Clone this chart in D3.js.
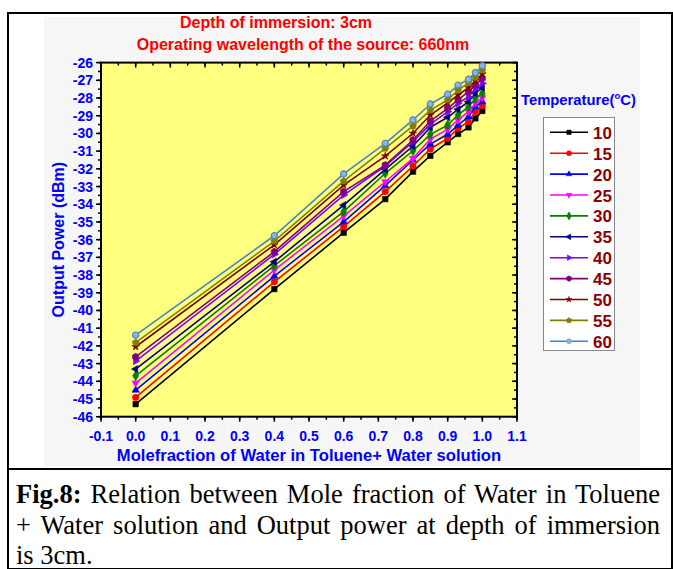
<!DOCTYPE html>
<html><head><meta charset="utf-8">
<script src="https://cdn.jsdelivr.net/npm/d3@7"></script>
<style>
body{margin:0;background:#fff}svg{display:block}
svg text{font-family:"Liberation Sans",Arial,Arimo,Helvetica,sans-serif;}
svg text.serif{font-family:"Liberation Serif","Times New Roman",Tinos,Times,serif;}
</style>
</head><body>
<svg id="c" width="673" height="569"></svg>
<script>
const titleLines = ["Depth of immersion: 3cm", "Operating wavelength of the source: 660nm"];
const xLabel = "Molefraction of Water in Toluene+ Water solution";
const yLabel = "Output Power (dBm)";
const legendTitle = "Temperature(";
const molefraction = [0.0, 0.4, 0.6, 0.72, 0.8, 0.85, 0.9, 0.93, 0.96, 0.98, 1.0];
const temperatures = ["10","15","20","25","30","35","40","45","50","55","60"];
const power10 = [-45.29,-38.79,-35.61,-33.71,-32.16,-31.26,-30.50,-30.03,-29.66,-29.15,-28.73];
const power15 = [-44.91,-38.38,-35.27,-33.29,-31.84,-30.88,-30.28,-29.71,-29.34,-28.77,-28.44];
const power20 = [-44.50,-38.06,-34.99,-32.95,-31.50,-30.60,-30.05,-29.53,-29.06,-28.49,-28.21];
const power25 = [-44.10,-37.72,-34.67,-32.73,-31.41,-30.32,-29.77,-29.24,-28.77,-28.30,-27.98];
const power30 = [-43.69,-37.47,-34.42,-32.25,-30.98,-30.05,-29.53,-28.96,-28.49,-28.02,-27.73];
const power35 = [-43.31,-37.25,-34.05,-32.03,-30.71,-29.66,-29.09,-28.64,-28.21,-27.73,-27.42];
const power40 = [-42.86,-36.83,-33.48,-31.84,-30.47,-29.49,-28.77,-28.30,-27.93,-27.45,-27.17];
const power45 = [-42.62,-36.68,-33.29,-31.79,-30.37,-29.30,-28.58,-28.11,-27.64,-27.27,-26.89];
const power50 = [-42.05,-36.29,-32.92,-31.28,-29.99,-28.96,-28.27,-27.83,-27.42,-27.02,-26.64];
const power55 = [-41.82,-36.08,-32.69,-30.84,-29.58,-28.68,-28.11,-27.55,-27.14,-26.83,-26.42];
const power60 = [-41.39,-35.78,-32.29,-30.56,-29.24,-28.34,-27.79,-27.27,-26.94,-26.57,-26.18];
const xTicks = [-0.1,0.0,0.1,0.2,0.3,0.4,0.5,0.6,0.7,0.8,0.9,1.0,1.1];
const yTicks = [-46,-45,-44,-43,-42,-41,-40,-39,-38,-37,-36,-35,-34,-33,-32,-31,-30,-29,-28,-27,-26];
const captionLines = ["Relation between Mole fraction of Water in Toluene", "+ Water solution and Output power at depth of immersion", "is 3cm."];

const seriesValues = [power10,power15,power20,power25,power30,power35,power40,power45,power50,power55,power60];
const colors = ["#000000","#ff0000","#0000ff","#ff00ff","#008000","#000080","#8000ff","#800080","#800000","#808000","#4a85c0"];

const svg = d3.select("#c");
const W = 673, H = 569;
const m = {l:101, r:517, t:62.6, b:416.7};
const x = d3.scaleLinear().domain([-0.1,1.1]).range([m.l,m.r]);
const y = d3.scaleLinear().domain([-46,-26]).range([m.b,m.t]);
const blue = "#0000ff";

svg.append("rect").attr("x",0).attr("y",0).attr("width",W).attr("height",H).attr("fill","#fff");
svg.append("rect").attr("x",44).attr("y",17).attr("width",596).attr("height",449).attr("fill","#f6f6f6");
svg.append("rect").attr("x",m.l).attr("y",m.t).attr("width",m.r-m.l).attr("height",m.b-m.t).attr("fill","#ffff80");

svg.selectAll("text.title").data(titleLines).join("text").attr("class","title")
  .attr("x",(d,i)=> i===0 ? 276 : 303).attr("y",(d,i)=>28+i*22).attr("text-anchor","middle")
  .attr("font-weight","bold").attr("font-size",16).attr("fill","#ff0000").text(d=>d);

const minorX = d3.range(-0.1,1.1001,0.05);
const minorY = d3.range(-46,-25.99,0.5);
const ax = svg.append("g");
function tickLines(vals, isX, side, len){
  ax.selectAll(null).data(vals).join("line")
    .attr("x1",d=> isX ? x(d) : (side==="l"? m.l : m.r))
    .attr("x2",d=> isX ? x(d) : (side==="l"? m.l-len : m.r-len))
    .attr("y1",d=> isX ? (side==="b"? m.b : m.t) : y(d))
    .attr("y2",d=> isX ? (side==="b"? m.b+len : m.t+len) : y(d))
    .attr("stroke","#000").attr("stroke-width",1.5);
}
tickLines(minorX,true,"b",3); tickLines(xTicks,true,"b",5);
tickLines(minorX,true,"t",3); tickLines(xTicks,true,"t",5);
tickLines(minorY,false,"l",3); tickLines(yTicks,false,"l",5);
tickLines(minorY,false,"r",3); tickLines(yTicks,false,"r",5);
ax.append("rect").attr("x",m.l).attr("y",m.t).attr("width",m.r-m.l).attr("height",m.b-m.t)
  .attr("fill","none").attr("stroke","#000").attr("stroke-width",2);

svg.selectAll("text.xt").data(xTicks).join("text").attr("class","xt")
  .attr("x",d=>x(d)).attr("y",441).attr("text-anchor","middle")
  .attr("font-weight","bold").attr("font-size",14).attr("fill",blue)
  .text(d=>d3.format(".1f")(d).replace("−","-"));
svg.selectAll("text.yt").data(yTicks).join("text").attr("class","yt")
  .attr("x",93).attr("y",d=>y(d)+5).attr("text-anchor","end")
  .attr("font-weight","bold").attr("font-size",14).attr("fill",blue)
  .text(d=>String(d));

svg.append("text").attr("x",309).attr("y",461).attr("text-anchor","middle")
  .attr("font-weight","bold").attr("font-size",16.6).attr("fill",blue).text(xLabel);
svg.append("text").attr("transform",`translate(64,${(m.t+m.b)/2}) rotate(-90)`).attr("text-anchor","middle")
  .attr("font-weight","bold").attr("font-size",16).attr("fill",blue).text(yLabel);

function polygon(n, r, rot){
  const pts=[]; for(let i=0;i<n;i++){const a=rot+i*2*Math.PI/n; pts.push([r*Math.sin(a),-r*Math.cos(a)]);}
  return "M"+pts.map(p=>p.join(",")).join("L")+"Z";
}
const markerPaths = [
  d3.symbol(d3.symbolSquare,30)(),
  d3.symbol(d3.symbolCircle,32)(),
  polygon(3,4.2,0),
  polygon(3,4.2,Math.PI),
  d3.symbol(d3.symbolDiamond,30)(),
  polygon(3,4.2,-Math.PI/2),
  polygon(3,4.2,Math.PI/2),
  polygon(6,3.6,0),
  d3.symbol(d3.symbolStar,18)(),
  polygon(5,3.6,0),
  d3.symbol(d3.symbolCircle,30)()
];
const fills = colors.slice(); fills[10] = "#8fb3dc";

const line = d3.line().x(d=>x(d[0])).y(d=>y(d[1]));
const plot = svg.append("g");
seriesValues.forEach((vals,i)=>{
  const pts = molefraction.map((mf,j)=>[mf, vals[j]]);
  const g = plot.append("g");
  g.append("path").attr("d",line(pts)).attr("fill","none").attr("stroke",colors[i]).attr("stroke-width",1.6);
  g.selectAll("path.mk").data(pts).join("path").attr("class","mk")
    .attr("transform",d=>`translate(${x(d[0])},${y(d[1])})`).attr("d",markerPaths[i])
    .attr("fill",fills[i]).attr("stroke",colors[i]).attr("stroke-width",i===10?1.2:0.6);
});

const lt = svg.append("text").attr("x",521).attr("y",105)
  .attr("font-weight","bold").attr("font-size",14.8).attr("fill",blue);
lt.append("tspan").text(legendTitle);
lt.append("tspan").attr("dy",-6).attr("font-size",9.5).text("o");
lt.append("tspan").attr("dy",6).text("C)");
svg.append("rect").attr("x",543.5).attr("y",117.5).attr("width",71).attr("height",233)
  .attr("fill","#fff").attr("stroke","#888").attr("stroke-width",1);
const leg = svg.selectAll("g.leg").data(temperatures).join("g").attr("class","leg")
  .attr("transform",(d,i)=>`translate(0,${132.3+i*20.9})`);
leg.append("line").attr("x1",550).attr("x2",588).attr("stroke",(d,i)=>colors[i]).attr("stroke-width",1.6);
leg.append("path").attr("transform","translate(569,0) scale(0.8)").attr("d",(d,i)=>markerPaths[i])
  .attr("fill",(d,i)=>fills[i]).attr("stroke",(d,i)=>colors[i]).attr("stroke-width",0.6);
leg.append("text").attr("x",593).attr("y",6.5).attr("font-weight","bold")
  .attr("font-size",17).attr("fill","#8b0000").text(d=>d);

svg.append("rect").attr("x",8).attr("y",13).attr("width",664).attr("height",556)
  .attr("fill","none").attr("stroke","#000").attr("stroke-width",2);
svg.append("line").attr("x1",8).attr("x2",672).attr("y1",469).attr("y2",469).attr("stroke","#000").attr("stroke-width",2);

function justify(t, target){
  const n = t.node();
  const natural = n.getComputedTextLength();
  const spaces = (n.textContent.match(/ /g) || []).length;
  if (spaces > 0) t.attr("word-spacing", (target - natural) / spaces);
}
const capSize = 26.5;
const c1 = svg.append("text").attr("class","serif").attr("x",16).attr("y",503).attr("font-size",capSize);
c1.append("tspan").attr("font-weight","bold").text("Fig.8:");
c1.append("tspan").text(" " + captionLines[0]);
justify(c1, 644);
const c2 = svg.append("text").attr("class","serif").attr("x",16).attr("y",534).attr("font-size",capSize).text(captionLines[1]);
justify(c2, 644);
svg.append("text").attr("class","serif").attr("x",16).attr("y",564).attr("font-size",capSize).text(captionLines[2]);
</script>
</body></html>
